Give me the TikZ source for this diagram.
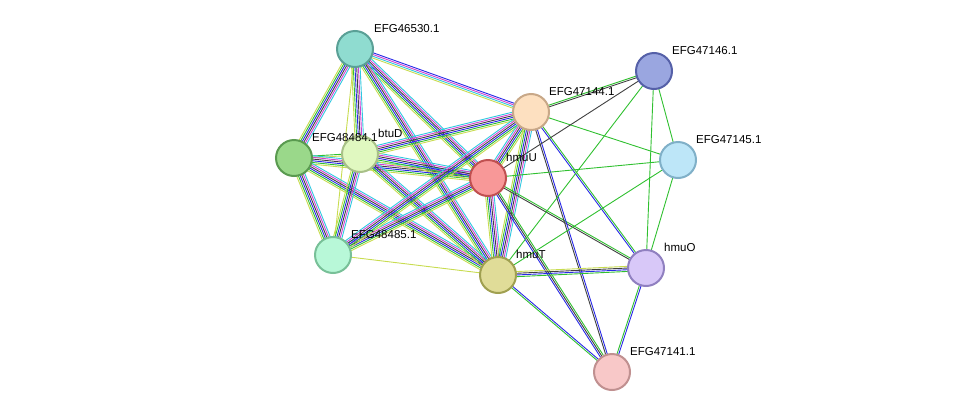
\documentclass[tikz,border=0pt]{standalone}
\usepackage{fontspec}
\setmainfont{Liberation Sans}
\usetikzlibrary{calc}
\definecolor{tm}{HTML}{C8DC50}
\definecolor{gn}{HTML}{30C030}
\definecolor{bk}{HTML}{404040}
\definecolor{bl}{HTML}{2828E8}
\definecolor{mg}{HTML}{D040D0}
\definecolor{cy}{HTML}{30C8E0}
\newcommand\elink[4]{%
\edef\mylst{#4}%
\foreach \c [count=\i] in \mylst {%
\pgfmathsetmacro\off{(\i-(#3+1)/2)*1.7}%
\draw[\c, line width=0.9pt] ($(#1)!\off pt!90:(#2)$) -- ($(#2)!\off pt!-90:(#1)$);}}
\tikzset{prot/.style={circle, minimum size=36pt, inner sep=0pt, line width=2pt},
lbl/.style={font=\fontsize{11.5}{13}\selectfont, anchor=base west, inner sep=0pt}}
\begin{document}
\begin{tikzpicture}[x=1pt,y=-1pt]
\useasboundingbox (0,0) rectangle (976,418);
\coordinate (A) at (355,49);
\coordinate (B) at (654,71);
\coordinate (C) at (531,112);
\coordinate (D) at (678,160);
\coordinate (E) at (294,158);
\coordinate (F) at (360,154);
\coordinate (G) at (488,178);
\coordinate (H) at (333,255);
\coordinate (I) at (498,275);
\coordinate (J) at (646,268);
\coordinate (K) at (612,372);
\def\full{tm,gn,bl,bk,mg,cy}
\elink{A}{E}{6}{\full}
\elink{A}{F}{6}{\full}
\elink{A}{G}{6}{\full}
\elink{A}{C}{4}{tm,cy,mg,bl}
\elink{A}{I}{6}{\full}
\elink{A}{H}{1}{tm}
\elink{E}{F}{2}{tm,gn}
\elink{E}{G}{6}{\full}
\elink{E}{H}{6}{\full}
\elink{E}{I}{6}{\full}
\elink{F}{G}{6}{\full}
\elink{F}{H}{6}{\full}
\elink{F}{I}{6}{\full}
\elink{F}{C}{6}{\full}
\elink{H}{G}{6}{\full}
\elink{H}{C}{6}{\full}
\elink{H}{I}{1}{tm}
\elink{G}{C}{6}{\full}
\elink{G}{I}{6}{\full}
\elink{C}{I}{6}{\full}
\elink{G}{J}{2}{bk,gn}
\elink{G}{K}{3}{bl,bk,gn}
\elink{C}{J}{2}{bl,gn}
\elink{C}{K}{2}{bk,bl}
\elink{C}{B}{2}{bk,gn}
\elink{C}{D}{1}{gn}
\elink{I}{J}{4}{gn,bl,bk,tm}
\elink{I}{K}{2}{gn,bl}
\elink{J}{K}{2}{gn,bl}
\elink{B}{G}{1}{bk}
\elink{B}{I}{1}{gn}
\elink{B}{J}{1}{gn}
\elink{B}{D}{1}{gn}
\elink{D}{G}{1}{gn}
\elink{D}{J}{1}{gn}
\elink{D}{I}{1}{gn}
\node[prot, fill={rgb,255:red,143;green,220;blue,208}, draw={rgb,255:red,90;green,160;blue,150}] (nA) at (A) {};
\node[prot, fill={rgb,255:red,154;green,166;blue,224}, draw={rgb,255:red,85;green,96;blue,168}] (nB) at (B) {};
\node[prot, fill={rgb,255:red,253;green,224;blue,192}, draw={rgb,255:red,200;green,168;blue,136}] (nC) at (C) {};
\node[prot, fill={rgb,255:red,189;green,230;blue,248}, draw={rgb,255:red,128;green,176;blue,200}] (nD) at (D) {};
\node[prot, fill={rgb,255:red,154;green,216;blue,138}, draw={rgb,255:red,90;green,154;blue,80}] (nE) at (E) {};
\node[prot, fill={rgb,255:red,224;green,248;blue,192}, draw={rgb,255:red,168;green,192;blue,136}] (nF) at (F) {};
\node[prot, fill={rgb,255:red,248;green,152;blue,152}, draw={rgb,255:red,192;green,80;blue,80}] (nG) at (G) {};
\node[prot, fill={rgb,255:red,184;green,248;blue,216}, draw={rgb,255:red,120;green,192;blue,152}] (nH) at (H) {};
\node[prot, fill={rgb,255:red,224;green,220;blue,152}, draw={rgb,255:red,160;green,160;blue,80}] (nI) at (I) {};
\node[prot, fill={rgb,255:red,216;green,200;blue,248}, draw={rgb,255:red,144;green,128;blue,192}] (nJ) at (J) {};
\node[prot, fill={rgb,255:red,248;green,200;blue,200}, draw={rgb,255:red,192;green,144;blue,144}] (nK) at (K) {};
\node[lbl] (tA) at (374,32) {EFG46530.1};
\node[lbl] (tB) at (672,54) {EFG47146.1};
\node[lbl] (tC) at (549,95) {EFG47144.1};
\node[lbl] (tD) at (696,143) {EFG47145.1};
\node[lbl] (tE) at (312,141) {EFG48484.1};
\node[lbl] (tF) at (378,137) {btuD};
\node[lbl] (tG) at (506,161) {hmuU};
\node[lbl] (tH) at (351,238) {EFG48485.1};
\node[lbl] (tI) at (516,258) {hmuT};
\node[lbl] (tJ) at (664,251) {hmuO};
\node[lbl] (tK) at (630,355) {EFG47141.1};
\end{tikzpicture}
\end{document}
